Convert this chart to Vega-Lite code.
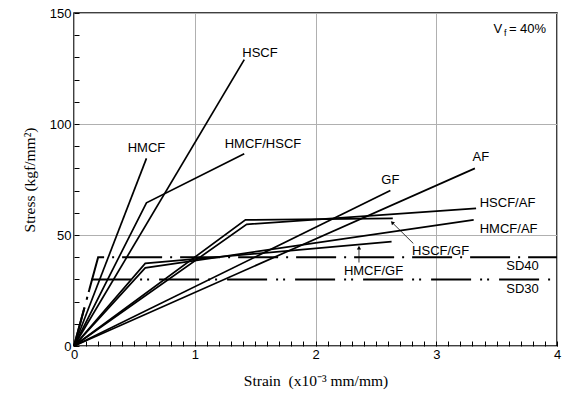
{
  "$schema": "https://vega.github.io/schema/vega-lite/v6.json",
  "autosize": {"type": "none"},
  "padding": {"left": 74, "top": 13, "right": 5, "bottom": 52},
  "width": 483,
  "height": 333,
  "background": "white",
  "config": {
    "view": {"stroke": "black", "strokeWidth": 1.5},
    "axis": {
      "labelFont": "Liberation Sans", "labelFontSize": 13, "labelColor": "black",
      "titleFont": "Liberation Serif", "titleFontSize": 15.5, "titleFontWeight": "normal", "titleColor": "black",
      "domain": false, "tickColor": "black", "tickWidth": 1, "gridColor": "#b0b0b0", "gridWidth": 1
    }
  },
  "datasets": {
    "curves": [
      {"s": "HMCF", "o": 0, "x": 0, "y": 0}, {"s": "HMCF", "o": 1, "x": 0.6, "y": 84.5},
      {"s": "HSCF", "o": 0, "x": 0, "y": 0}, {"s": "HSCF", "o": 1, "x": 1.41, "y": 129},
      {"s": "HMCF/HSCF", "o": 0, "x": 0, "y": 0}, {"s": "HMCF/HSCF", "o": 1, "x": 0.6, "y": 64.5}, {"s": "HMCF/HSCF", "o": 2, "x": 1.41, "y": 86.6},
      {"s": "GF", "o": 0, "x": 0, "y": 0}, {"s": "GF", "o": 1, "x": 2.62, "y": 70},
      {"s": "AF", "o": 0, "x": 0, "y": 0}, {"s": "AF", "o": 1, "x": 3.32, "y": 80},
      {"s": "HSCF/GF", "o": 0, "x": 0, "y": 0}, {"s": "HSCF/GF", "o": 1, "x": 1.42, "y": 56.8}, {"s": "HSCF/GF", "o": 2, "x": 2.64, "y": 57.5},
      {"s": "HSCF/AF", "o": 0, "x": 0, "y": 0}, {"s": "HSCF/AF", "o": 1, "x": 1.43, "y": 54.8}, {"s": "HSCF/AF", "o": 2, "x": 3.33, "y": 62},
      {"s": "HMCF/GF", "o": 0, "x": 0, "y": 0}, {"s": "HMCF/GF", "o": 1, "x": 0.59, "y": 37.2}, {"s": "HMCF/GF", "o": 2, "x": 2.63, "y": 47},
      {"s": "HMCF/AF", "o": 0, "x": 0, "y": 0}, {"s": "HMCF/AF", "o": 1, "x": 0.59, "y": 35.2}, {"s": "HMCF/AF", "o": 2, "x": 3.31, "y": 56.8}
    ],
    "steel": [
      {"s": "SD40", "o": 0, "x": 0, "y": 0}, {"s": "SD40", "o": 1, "x": 0.2, "y": 40}, {"s": "SD40", "o": 2, "x": 4, "y": 40},
      {"s": "SD30", "o": 0, "x": 0, "y": 0}, {"s": "SD30", "o": 1, "x": 0.15, "y": 30}, {"s": "SD30", "o": 2, "x": 3.95, "y": 30}
    ],
    "labelsC": [
      {"t": "HSCF", "x": 1.54, "y": 132},
      {"t": "HMCF", "x": 0.6, "y": 89},
      {"t": "HMCF/HSCF", "x": 1.565, "y": 91.2},
      {"t": "GF", "x": 2.62, "y": 75},
      {"t": "AF", "x": 3.37, "y": 85}
    ],
    "labelsL": [
      {"t": "HSCF/AF", "x": 3.36, "y": 64.2},
      {"t": "HMCF/AF", "x": 3.36, "y": 52.9},
      {"t": "HSCF/GF", "x": 2.8, "y": 43},
      {"t": "HMCF/GF", "x": 2.235, "y": 33.6},
      {"t": "SD40", "x": 3.58, "y": 35.9},
      {"t": "SD30", "x": 3.58, "y": 25.5}
    ],
    "arrows": [
      {"x": 2.81, "y": 46.2, "x2": 2.635, "y2": 55.6},
      {"x": 2.36, "y": 37.6, "x2": 2.36, "y2": 44.3}
    ],
    "vf": [{"x": 3.91, "y": 143}]
  },
  "layer": [
    {
      "data": {"name": "curves"},
      "mark": {"type": "line", "color": "black", "strokeWidth": 1.7},
      "encoding": {
        "x": {"field": "x", "type": "quantitative", "scale": {"domain": [0, 4], "nice": false},
          "title": "Strain \u00a0(x10⁻³ mm/mm)",
          "axis": {
            "values": [0,0.1,0.2,0.3,0.4,0.5,0.6,0.7,0.8,0.9,1,1.1,1.2,1.3,1.4,1.5,1.6,1.7,1.8,1.9,2,2.1,2.2,2.3,2.4,2.5,2.6,2.7,2.8,2.9,3,3.1,3.2,3.3,3.4,3.5,3.6,3.7,3.8,3.9,4],
            "tickCount": 100,
            "labelExpr": "abs(datum.value - round(datum.value)) < 0.001 ? format(datum.value, 'd') : ''",
            "gridOpacity": {"condition": {"test": "abs(datum.value - round(datum.value)) < 0.001", "value": 1}, "value": 0},
            "tickSize": -5, "labelPadding": 7, "titlePadding": 12, "labelFlush": false, "labelOverlap": false,
            "titleColor": "black"
          }},
        "y": {"field": "y", "type": "quantitative", "scale": {"domain": [0, 150], "nice": false},
          "title": "Stress (kgf/mm²)",
          "axis": {
            "values": [0,10,20,30,40,50,60,70,80,90,100,110,120,130,140,150],
            "tickCount": 100,
            "labelExpr": "datum.value % 50 === 0 ? format(datum.value, 'd') : ''",
            "gridOpacity": {"condition": {"test": "datum.value % 50 === 0", "value": 1}, "value": 0},
            "tickSize": -5, "labelPadding": 8, "titlePadding": 12, "labelFlush": false, "labelOverlap": false,
            "titleColor": "black"
          }},
        "detail": {"field": "s"},
        "order": {"field": "o"}
      }
    },
    {
      "data": {"name": "steel"},
      "mark": {"type": "line", "color": "black", "strokeWidth": 2},
      "encoding": {
        "x": {"field": "x", "type": "quantitative"},
        "y": {"field": "y", "type": "quantitative"},
        "strokeDash": {"field": "s", "type": "nominal", "scale": {"domain": ["SD40", "SD30"], "range": [[40, 8, 2, 8], [40, 9, 2, 5, 2, 10]]}, "legend": null},
        "order": {"field": "o"}
      }
    },
    {
      "data": {"name": "arrows"},
      "mark": {"type": "rule", "color": "black", "strokeWidth": 0.8},
      "encoding": {
        "x": {"field": "x", "type": "quantitative"},
        "y": {"field": "y", "type": "quantitative"},
        "x2": {"field": "x2"},
        "y2": {"field": "y2"}
      }
    },
    {
      "data": {"name": "arrows"},
      "transform": [{"filter": "datum.x != datum.x2"}],
      "mark": {"type": "point", "shape": "triangle-up", "filled": true, "color": "black", "size": 18, "angle": 315, "opacity": 1},
      "encoding": {
        "x": {"field": "x2", "type": "quantitative"},
        "y": {"field": "y2", "type": "quantitative"}
      }
    },
    {
      "data": {"name": "arrows"},
      "transform": [{"filter": "datum.x == datum.x2"}],
      "mark": {"type": "point", "shape": "triangle-up", "filled": true, "color": "black", "size": 18, "angle": 0, "opacity": 1},
      "encoding": {
        "x": {"field": "x2", "type": "quantitative"},
        "y": {"field": "y2", "type": "quantitative"}
      }
    },
    {
      "data": {"name": "labelsC"},
      "mark": {"type": "text", "font": "Liberation Sans", "fontSize": 13, "color": "black", "align": "center", "baseline": "middle"},
      "encoding": {
        "x": {"field": "x", "type": "quantitative"},
        "y": {"field": "y", "type": "quantitative"},
        "text": {"field": "t"}
      }
    },
    {
      "data": {"name": "labelsL"},
      "mark": {"type": "text", "font": "Liberation Sans", "fontSize": 13, "color": "black", "align": "left", "baseline": "middle"},
      "encoding": {
        "x": {"field": "x", "type": "quantitative"},
        "y": {"field": "y", "type": "quantitative"},
        "text": {"field": "t"}
      }
    },
    {
      "data": {"name": "vf"},
      "mark": {"type": "text", "font": "Liberation Sans", "fontSize": 13, "color": "black", "align": "right", "baseline": "middle"},
      "encoding": {
        "x": {"field": "x", "type": "quantitative"},
        "y": {"field": "y", "type": "quantitative"},
        "text": {"value": "= 40%"}
      }
    },
    {
      "data": {"name": "vf"},
      "mark": {"type": "text", "font": "Liberation Sans", "fontSize": 13, "color": "black", "align": "right", "baseline": "middle", "dx": -44},
      "encoding": {
        "x": {"field": "x", "type": "quantitative"},
        "y": {"field": "y", "type": "quantitative"},
        "text": {"value": "V"}
      }
    },
    {
      "data": {"name": "vf"},
      "mark": {"type": "text", "font": "Liberation Sans", "fontSize": 9, "color": "black", "align": "center", "baseline": "middle", "dx": -41, "dy": 4},
      "encoding": {
        "x": {"field": "x", "type": "quantitative"},
        "y": {"field": "y", "type": "quantitative"},
        "text": {"value": "f"}
      }
    }
  ]
}
